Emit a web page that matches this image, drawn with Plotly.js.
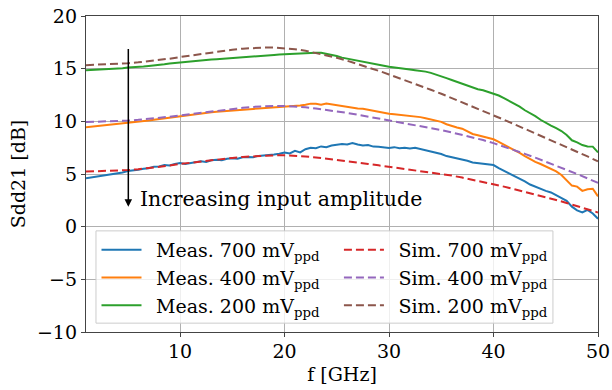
<!DOCTYPE html>
<html>
<head>
<meta charset="utf-8">
<script src="https://cdn.plot.ly/plotly-3.0.1.min.js"></script>
<style>html,body{margin:0;padding:0;background:#fff;}#plot{width:612px;height:390px;}</style>
</head>
<body>
<div id="plot"></div>
<script>
const freqMeas = [1,1.5,2,2.5,3,3.5,4,4.5,5,5.5,6,6.5,7,7.5,8,8.5,9,9.5,10,10.5,11,11.5,12,12.5,13,13.5,14,14.5,15,15.5,16,16.5,17,17.5,18,18.5,19,19.5,20,20.5,21,21.5,22,22.5,23,23.5,24,24.5,25,25.5,26,26.5,27,27.5,28,28.5,29,29.5,30,30.5,31,31.5,32,32.5,33,33.5,34,34.5,35,35.5,36,36.5,37,37.5,38,38.5,39,39.5,40,40.5,41,41.5,42,42.5,43,43.5,44,44.5,45,45.5,46,46.5,47,47.5,48,48.5,49,49.5,50];
const meas700 = [4.6,4.68,4.75,4.82,4.9,4.95,5.05,5.15,5.28,5.32,
5.4,5.5,5.55,5.68,5.72,5.85,5.8,5.95,6.05,5.95,
6.05,6.1,6.2,6.15,6.3,6.35,6.3,6.45,6.5,6.45,
6.58,6.62,6.6,6.72,6.75,6.8,6.85,6.92,7.05,6.95,
7.2,7.05,7.35,7.5,7.45,7.62,7.55,7.7,7.75,7.85,
7.8,7.95,7.8,7.7,7.75,7.6,7.58,7.5,7.48,7.55,
7.45,7.5,7.42,7.5,7.38,7.3,7.2,7.05,6.9,6.7,
6.6,6.5,6.38,6.25,6.1,6.05,5.98,5.92,5.85,5.55,
5.3,5.1,4.85,4.6,4.3,4.0,3.8,3.55,3.4,3.25,
3.0,2.75,2.45,1.9,1.55,1.35,1.6,1.25,0.75];
const meas400 = [9.43,9.48,9.52,9.56,9.62,9.66,9.72,9.78,9.86,9.92,
9.98,10.02,10.08,10.15,10.22,10.3,10.38,10.44,10.52,10.57,
10.62,10.7,10.76,10.82,10.87,10.9,10.95,11.0,11.05,11.08,
11.12,11.15,11.18,11.22,11.25,11.28,11.3,11.33,11.35,11.4,
11.45,11.5,11.58,11.68,11.66,11.58,11.7,11.62,11.5,11.45,
11.38,11.3,11.22,11.2,11.1,11.0,10.92,10.82,10.73,10.68,
10.63,10.6,10.55,10.5,10.4,10.3,10.2,10.08,9.95,9.72,
9.55,9.42,9.3,9.05,8.8,8.68,8.55,8.42,8.3,8.05,
7.8,7.5,7.3,7.0,6.7,6.4,6.15,5.95,5.72,5.55,
5.25,4.9,4.4,3.9,3.8,3.4,3.55,3.6,2.88];
const meas200 = [14.85,14.87,14.9,14.92,14.95,14.98,15.02,15.05,15.1,15.12,
15.17,15.2,15.26,15.3,15.37,15.42,15.5,15.55,15.62,15.66,
15.7,15.74,15.78,15.82,15.86,15.9,15.93,15.97,16.0,16.05,
16.08,16.12,16.16,16.2,16.24,16.27,16.3,16.34,16.37,16.38,
16.4,16.42,16.44,16.47,16.5,16.5,16.42,16.33,16.2,16.05,
15.95,15.85,15.7,15.6,15.56,15.45,15.36,15.27,15.18,15.1,
15.05,14.98,14.93,14.86,14.8,14.72,14.6,14.45,14.3,14.1,
13.92,13.75,13.55,13.35,13.18,13.05,12.95,12.8,12.65,12.45,
12.2,11.92,11.72,11.4,11.05,10.78,10.5,10.15,9.85,9.6,
9.35,9.08,8.7,8.2,8.0,7.75,7.62,7.6,7.05];

const freqSim = [1,2,3,4,5,6,7,8,9,10,11,12,13,14,15,16,17,18,19,20,21,22,23,24,25,26,27,28,29,30,31,32,33,34,35,36,37,38,39,40,41,42,43,44,45,46,47,48,49,50];
const sim700 = [5.23,5.25,5.28,5.32,5.37,5.45,5.55,5.66,5.8,5.95,6.08,6.2,6.32,6.43,6.53,6.62,6.69,6.74,6.77,6.77,6.73,6.66,6.57,6.46,6.34,6.21,6.08,5.95,5.82,5.68,5.56,5.43,5.3,5.16,5.02,4.85,4.66,4.46,4.24,4.02,3.8,3.56,3.32,3.06,2.8,2.53,2.25,1.96,1.66,1.35];
const sim400 = [9.93,9.95,9.98,10.02,10.07,10.14,10.22,10.32,10.44,10.57,10.7,10.83,10.95,11.07,11.18,11.28,11.37,11.43,11.46,11.45,11.41,11.33,11.22,11.1,10.96,10.8,10.63,10.45,10.27,10.1,9.92,9.74,9.56,9.37,9.17,8.95,8.72,8.48,8.22,7.93,7.61,7.27,6.91,6.55,6.18,5.8,5.41,5.0,4.58,4.15];
const sim200 = [15.33,15.36,15.4,15.45,15.52,15.6,15.7,15.82,15.95,16.1,16.25,16.4,16.55,16.68,16.8,16.9,16.97,17.0,17.0,16.95,16.85,16.7,16.5,16.28,16.03,15.75,15.45,15.13,14.8,14.45,14.1,13.75,13.38,13.0,12.62,12.22,11.82,11.42,11.0,10.58,10.15,9.72,9.29,8.86,8.43,8.0,7.56,7.12,6.67,6.2];

const labels = ['Meas. 700 mV<sub>ppd</sub>','Meas. 400 mV<sub>ppd</sub>','Meas. 200 mV<sub>ppd</sub>',
                'Sim. 700 mV<sub>ppd</sub>','Sim. 400 mV<sub>ppd</sub>','Sim. 200 mV<sub>ppd</sub>'];
const colors = ['#1f77b4','#ff7f0e','#2ca02c','#d62728','#9467bd','#8c564b'];
const xTicks = [10,20,30,40,50];
const yTicks = [-10,-5,0,5,10,15,20];
const annText = 'Increasing input amplitude';

const FAM = 'DejaVu Serif';
const FS = 19;
const font = {family:FAM, size:FS, color:'#000'};

const measY = [meas700, meas400, meas200];
const simY = [sim700, sim400, sim200];
const traces = [];
measY.forEach((y,i)=>traces.push({x:freqMeas,y:y,mode:'lines',name:'\u2002'+labels[i],legend:'legend',
  legendgroup:'m'+i, line:{color:colors[i],width:2}}));
simY.forEach((y,i)=>traces.push({x:freqSim,y:y,mode:'lines',name:'\u2002'+labels[i+3],legend:'legend2',
  legendgroup:'s'+i, line:{color:colors[i+3],width:2,dash:'8px,4px'}}));

const legBase = {y:0.32, yanchor:'top', xanchor:'left', bgcolor:'rgba(0,0,0,0)', borderwidth:0,
  font:font, itemwidth:40, tracegroupgap:0, traceorder:'grouped'};

const layout = {
  width:612, height:390,
  margin:{l:86,r:14,t:16,b:58},
  paper_bgcolor:'#fff', plot_bgcolor:'#fff',
  font:font,
  showlegend:true,
  legend:Object.assign({x:0.0205}, legBase),
  legend2:Object.assign({x:0.494}, legBase),
  shapes:[{type:'rect', xref:'paper', yref:'paper', x0:0.0195, x1:0.912, y0:0.028, y1:0.32,
    line:{color:'#cccccc', width:1}, fillcolor:'rgba(255,255,255,0.8)', layer:'above'}],
  xaxis:{range:[1,50], tickvals:xTicks, showgrid:true, gridcolor:'#b0b0b0', gridwidth:1,
    showline:true, linecolor:'#444', linewidth:1.2, mirror:true, ticks:'outside', ticklen:4,
    tickcolor:'#444', zeroline:false, tickfont:font, ticklabelstandoff:-2,
    title:{text:'f [GHz]', font:font, standoff:6}},
  yaxis:{range:[-10,20], tickvals:yTicks, showgrid:true, gridcolor:'#b0b0b0', gridwidth:1,
    showline:true, linecolor:'#444', linewidth:1.2, mirror:true, ticks:'outside', ticklen:4,
    tickcolor:'#444', zeroline:false, tickfont:font,
    title:{text:'Sdd21 [dB]', font:font, standoff:6}},
  annotations:[
    {x:5.05, y:1.9, ax:5.05, ay:17.0, xref:'x', yref:'y', axref:'x', ayref:'y',
     text:'', showarrow:true, arrowhead:2, arrowsize:1, arrowwidth:1.5, arrowcolor:'#000'},
    {x:5.95, y:2.6, xref:'x', yref:'y', text:annText, showarrow:false, xanchor:'left', yanchor:'middle',
     font:{family:FAM, size:20.5, color:'#000'}}
  ]
};
Plotly.newPlot('plot', traces, layout, {displayModeBar:false, staticPlot:true});
</script>
</body>
</html>
